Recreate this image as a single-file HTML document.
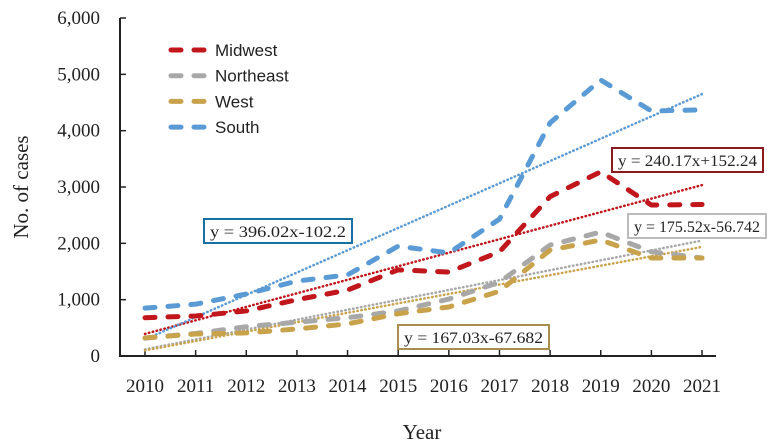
<!DOCTYPE html>
<html><head><meta charset="utf-8"><style>
body{margin:0;background:#fff}
svg text{font-family:"Liberation Serif",serif;fill:#222}
</style></head><body>
<svg width="770" height="443" id="c">
<g id="axes"></g><g id="trends"></g><g id="series"></g><g id="legend"></g><g id="boxes"></g>
</svg>
<script>
const years=[2010,2011,2012,2013,2014,2015,2016,2017,2018,2019,2020,2021];
const yTicks=[0,1000,2000,3000,4000,5000,6000];
const seriesNames=["Midwest","Northeast","West","South"];
const midwest=[680,710,800,1000,1170,1530,1490,1850,2830,3270,2680,2690];
const northeast=[320,400,520,600,680,800,1010,1310,1970,2200,1850,1740];
const west=[320,390,410,480,570,750,870,1150,1880,2060,1740,1740];
const south=[850,920,1100,1330,1440,1950,1830,2430,4140,4900,4350,4370];
const slopes=[240.17,175.52,167.03,396.02];
const intercepts=[152.24,-56.742,-67.682,-102.2];
const eqLabels=["y = 240.17x+152.24","y = 175.52x-56.742","y = 167.03x-67.682","y = 396.02x-102.2"];
const colors=["#c0161c","#a8a8a8","#c9a24c","#5b9bd5"];
const boxColors=["#8b1a1e","#bbbbbb","#a88d4e","#1a6fa3"];
const boxPos=[[612,148,151],[628,214,138],[398,325,151],[204,219,148]];
const data=[midwest,northeast,west,south];
const NS="http://www.w3.org/2000/svg";
const X=i=>145+i*50.64, Y=v=>356-v*0.05633;
function mk(p,t,a){const e=document.createElementNS(NS,t);for(const k in a)e.setAttribute(k,a[k]);document.getElementById(p).appendChild(e);return e;}
let e;
e=mk("axes","line",{x1:120,y1:18,x2:120,y2:357,stroke:"#222","stroke-width":2});


e=mk("axes","line",{x1:119,y1:356,x2:716,y2:356,stroke:"#222","stroke-width":2});


yTicks.forEach(v=>{
 e=mk("axes","line",{x1:120,y1:Y(v),x2:126,y2:Y(v),stroke:"#222","stroke-width":1.5});
 
 
 e=mk("axes","text",{x:100,y:Y(v)+6,"text-anchor":"end","font-size":19});
 e.textContent=v.toLocaleString("en-US");
 
 
});
years.forEach((yr,i)=>{
 e=mk("axes","line",{x1:X(i),y1:356,x2:X(i),y2:350,stroke:"#222","stroke-width":1.5});
 
 
 e=mk("axes","text",{x:X(i),y:392,"text-anchor":"middle","font-size":19});
 e.textContent=yr;
 
 
});
e=mk("axes","text",{x:422,y:439,"text-anchor":"middle","font-size":21});
e.textContent="Year";


e=mk("axes","text",{x:0,y:0,"text-anchor":"middle","font-size":21,transform:"translate(28,187) rotate(-90)"});
e.textContent="No. of cases";


data.forEach((d,s)=>{
 const v0=slopes[s]*1+intercepts[s], v1=slopes[s]*years.length+intercepts[s];
 e=mk("trends","line",{x1:X(0),y1:Y(v0),x2:X(years.length-1),y2:Y(v1),stroke:colors[s],"stroke-width":2.5,"stroke-dasharray":"0.5 3.5","stroke-linecap":"round"});
 
 
 e=mk("series","polyline",{points:d.map((v,i)=>X(i)+","+Y(v)).join(" "),fill:"none",stroke:colors[s],"stroke-width":5,"stroke-dasharray":"10 13","stroke-linecap":"round","stroke-linejoin":"round"});
 
 
 const ly=50+s*25.7;
 e=mk("legend","line",{x1:171,y1:ly,x2:208,y2:ly,stroke:colors[s],"stroke-width":5,"stroke-dasharray":"10 13","stroke-linecap":"round"});
 
 
 e=mk("legend","text",{x:215,y:ly+6,"font-size":17,style:"font-family:'Liberation Sans',sans-serif"});
 e.textContent=seriesNames[s];
 
 
 const b=boxPos[s];
 e=mk("boxes","rect",{x:b[0],y:b[1],width:b[2],height:24,fill:"#fff",stroke:boxColors[s],"stroke-width":2});
 
 
 e=mk("boxes","text",{x:b[0]+6,y:b[1]+18,"font-size":16,textLength:b[2]-12,lengthAdjust:"spacingAndGlyphs"});
 e.textContent=eqLabels[s];
 
 
});
</script>
</body></html>
